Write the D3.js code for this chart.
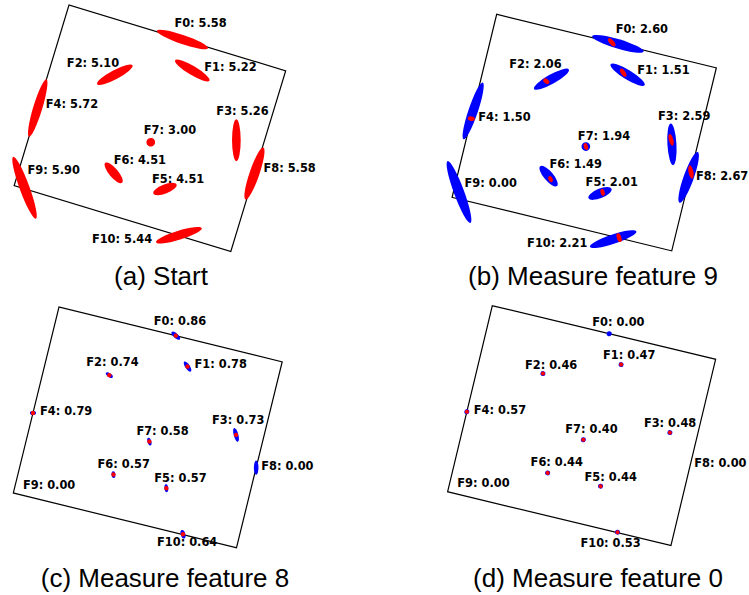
<!DOCTYPE html>
<html>
<head>
<meta charset="utf-8">
<script src="https://cdn.jsdelivr.net/npm/d3@7"></script>
<style>
  html, body { margin: 0; padding: 0; background: #ffffff; }
  svg { display: block; }
</style>
</head>
<body>
<svg id="chart" width="749" height="595"></svg>
<script>
// ---------------------------------------------------------------------------
// Landmark map: 11 features inside a 12 x 10 room, shown at four stages.
// Feature positions are in room units (origin = top-left corner of the room).
// ---------------------------------------------------------------------------
const roomWidth = 12;
const roomHeight = 10;

const featureNames = ["F0", "F1", "F2", "F3", "F4", "F5", "F6", "F7", "F8", "F9", "F10"];
const featureX = [6.28, 7.26, 3.40, 10.57, 0.00, 7.70, 4.85, 6.26, 12.00, 0.56, 9.12];
const featureY = [0.00, 1.42, 2.83, 4.28, 5.70, 7.85, 7.82, 5.70, 5.69, 9.95, 9.98];

const panelCaptions = [
  "(a) Start",
  "(b) Measure feature 9",
  "(c) Measure feature 8",
  "(d) Measure feature 0"
];

// Value printed next to every feature, per stage
const valuesStart    = [5.58, 5.22, 5.10, 5.26, 5.72, 4.51, 4.51, 3.00, 5.58, 5.90, 5.44];
const valuesMeasure9 = [2.60, 1.51, 2.06, 2.59, 1.50, 2.01, 1.49, 1.94, 2.67, 0.00, 2.21];
const valuesMeasure8 = [0.86, 0.78, 0.74, 0.73, 0.79, 0.57, 0.57, 0.58, 0.00, 0.00, 0.64];
const valuesMeasure0 = [0.00, 0.47, 0.46, 0.48, 0.57, 0.44, 0.44, 0.40, 0.00, 0.00, 0.53];

// Uncertainty ellipses: [semi-major, semi-minor, angle in degrees] in room units.
// null = no ellipse for that feature.
const redStart = [
  [1.43, 0.24, 2], [1.06, 0.24, 14], [1.06, 0.24, -45], [1.11, 0.23, 73],
  [1.59, 0.24, 90], [0.66, 0.24, -38], [0.69, 0.24, 33], [0.23, 0.23, 0],
  [1.46, 0.26, 92], [1.75, 0.26, 53], [1.27, 0.24, -34]
];

const blueMeasure9 = [
  [1.43, 0.25, 3], [1.06, 0.25, 18], [1.06, 0.25, -43], [1.11, 0.24, 73],
  [1.59, 0.25, 95], [0.66, 0.25, -36], [0.69, 0.25, 36], [0.23, 0.23, 0],
  [1.43, 0.27, 96], [1.75, 0.27, 56], [1.30, 0.25, -32]
];
// prior ellipse centres are displaced from the features in this stage
const blueShiftX9 = [0.34, 0.25, 0.24, 0.10, 0.00, -0.12, -0.14, 0.00, -0.05, -0.27, -0.29];
const blueShiftY9 = [0.00, 0.05, -0.17, 0.22, -0.42, 0.09, -0.13, 0.00, 0.31, -0.31, 0.15];
const redMeasure9 = [
  [0.27, 0.12, 36], [0.25, 0.12, 43], [0.18, 0.12, 24], [0.32, 0.12, 62],
  [0.19, 0.12, -9], [0.19, 0.11, 62], [0.17, 0.11, 51], [0.19, 0.11, 60],
  [0.36, 0.13, 65], null, [0.24, 0.12, 58]
];

const blueMeasure8 = [
  [0.29, 0.12, 28], [0.31, 0.12, 43], [0.21, 0.10, 21], [0.37, 0.12, 61],
  [0.16, 0.10, -14], [0.21, 0.10, 71], [0.18, 0.10, 71], [0.21, 0.10, 61],
  [0.37, 0.12, 76], null, [0.23, 0.12, 61]
];
const redMeasure8 = [
  [0.115, 0.115, 0], [0.115, 0.115, 0], [0.115, 0.115, 0], [0.115, 0.115, 0],
  [0.115, 0.115, 0], [0.115, 0.115, 0], [0.115, 0.115, 0], [0.115, 0.115, 0],
  null, null, [0.115, 0.115, 0]
];

const blueMeasure0 = [
  [0.13, 0.13, 0], [0.13, 0.13, 0], [0.13, 0.13, 0], [0.13, 0.13, 0],
  [0.13, 0.13, 0], [0.13, 0.13, 0], [0.13, 0.13, 0], [0.13, 0.13, 0],
  null, null, [0.13, 0.13, 0]
];
const redMeasure0 = [
  null, [0.105, 0.105, 0], [0.105, 0.105, 0], [0.105, 0.105, 0],
  [0.105, 0.105, 0], [0.105, 0.105, 0], [0.105, 0.105, 0], [0.105, 0.105, 0],
  null, null, [0.105, 0.105, 0]
];

// ---------------------------------------------------------------------------
// Layout: pose of each room drawing on the page and label nudges (pixels)
// ---------------------------------------------------------------------------
const panelLayout = [
  { ox: 69.0,  oy: 5.0,   angle: 16.9, unit: 18.87, capX: 161, capY: 285 },
  { ox: 496.7, oy: 14.3,  angle: 13.7, unit: 18.84, capX: 593, capY: 285 },
  { ox: 59.0,  oy: 307.0, angle: 13.8, unit: 19.15, capX: 165, capY: 587 },
  { ox: 492.3, oy: 305.7, angle: 13.5, unit: 19.14, capX: 598, capY: 587 }
];

const labelNudge = [
  [[-8, -12], [12, 1], [-48, -8], [-20, -25], [8, 0], [-13, -6], [0, -9], [-7, -8], [9, -2], [3, -14], [-87, 8]],
  [[4, -9], [14, 1], [-37, -13], [-13, -20], [7, 2], [-17, -6], [-1, -11], [-8, -7], [5, 8], [2, -12], [-92, 9]],
  [[-22, -11], [7, 1], [-23, -9], [-24, -11], [7, 2], [-12, -6], [-16, -7], [-13, -7], [5, 2], [-1, -6], [-26, 12]],
  [[-17, -8], [-18, -6], [-18, -5], [-26, -6], [7, 2], [-16, -5], [-17, -7], [-18, -7], [4, 2], [-1, -6], [-37, 15]]
];

const zeroShift = featureNames.map(() => 0);

const panels = [
  { caption: panelCaptions[0], values: valuesStart, blue: null, red: redStart,
    shiftX: zeroShift, shiftY: zeroShift },
  { caption: panelCaptions[1], values: valuesMeasure9, blue: blueMeasure9, red: redMeasure9,
    shiftX: blueShiftX9, shiftY: blueShiftY9 },
  { caption: panelCaptions[2], values: valuesMeasure8, blue: blueMeasure8, red: redMeasure8,
    shiftX: zeroShift, shiftY: zeroShift },
  { caption: panelCaptions[3], values: valuesMeasure0, blue: blueMeasure0, red: redMeasure0,
    shiftX: zeroShift, shiftY: zeroShift }
];

const svg = d3.select("#chart");
const fmt = d3.format(".2f");

panels.forEach((panel, p) => {
  const lay = panelLayout[p];
  const x = d3.scaleLinear().domain([0, roomWidth]).range([0, roomWidth * lay.unit]);
  const y = d3.scaleLinear().domain([0, roomHeight]).range([0, roomHeight * lay.unit]);
  const len = v => x(v) - x(0);

  const rad = lay.angle * Math.PI / 180;
  const cosA = Math.cos(rad), sinA = Math.sin(rad);
  const toPage = (u, v) => [
    lay.ox + cosA * x(u) - sinA * y(v),
    lay.oy + sinA * x(u) + cosA * y(v)
  ];

  const room = svg.append("g")
    .attr("transform", `translate(${lay.ox},${lay.oy}) rotate(${lay.angle})`);

  // room outline
  room.append("rect")
    .attr("x", x(0)).attr("y", y(0))
    .attr("width", x(roomWidth) - x(0))
    .attr("height", y(roomHeight) - y(0))
    .attr("fill", "none")
    .attr("stroke", "#000")
    .attr("stroke-width", 1.2);

  const rows = featureNames.map((name, i) => ({
    name, i,
    u: featureX[i], v: featureY[i],
    value: panel.values[i],
    blue: panel.blue ? panel.blue[i] : null,
    red: panel.red[i],
    bu: featureX[i] + panel.shiftX[i],
    bv: featureY[i] + panel.shiftY[i]
  }));

  const drawEllipses = (list, key, cxKey, cyKey, colour) => {
    room.append("g").selectAll("ellipse")
      .data(list.filter(d => d[key]))
      .join("ellipse")
      .attr("cx", d => x(d[cxKey]))
      .attr("cy", d => y(d[cyKey]))
      .attr("rx", d => len(d[key][0]))
      .attr("ry", d => len(d[key][1]))
      .attr("transform", d => `rotate(${d[key][2]},${x(d[cxKey])},${y(d[cyKey])})`)
      .attr("fill", colour);
  };

  drawEllipses(rows, "blue", "bu", "bv", "#0000ff");
  drawEllipses(rows, "red", "u", "v", "#ff0000");

  // feature labels (kept upright on the page)
  svg.append("g").selectAll("text")
    .data(rows)
    .join("text")
    .attr("transform", d => {
      const [px, py] = toPage(d.u, d.v);
      const n = labelNudge[p][d.i];
      return `translate(${px + n[0]},${py + n[1]})`;
    })
    .attr("font-family", "'DejaVu Sans', sans-serif")
    .attr("font-weight", "bold")
    .attr("font-size", 11.4)
    .attr("fill", "#000")
    .text(d => `${d.name}: ${fmt(d.value)}`);

  // caption
  svg.append("text")
    .attr("transform", `translate(${lay.capX},${lay.capY}) scale(1.04,1)`)
    .attr("text-anchor", "middle")
    .attr("font-family", "'Liberation Sans', Arial, sans-serif")
    .attr("font-size", 25)
    .attr("fill", "#000")
    .text(panel.caption);
});
</script>
</body>
</html>
